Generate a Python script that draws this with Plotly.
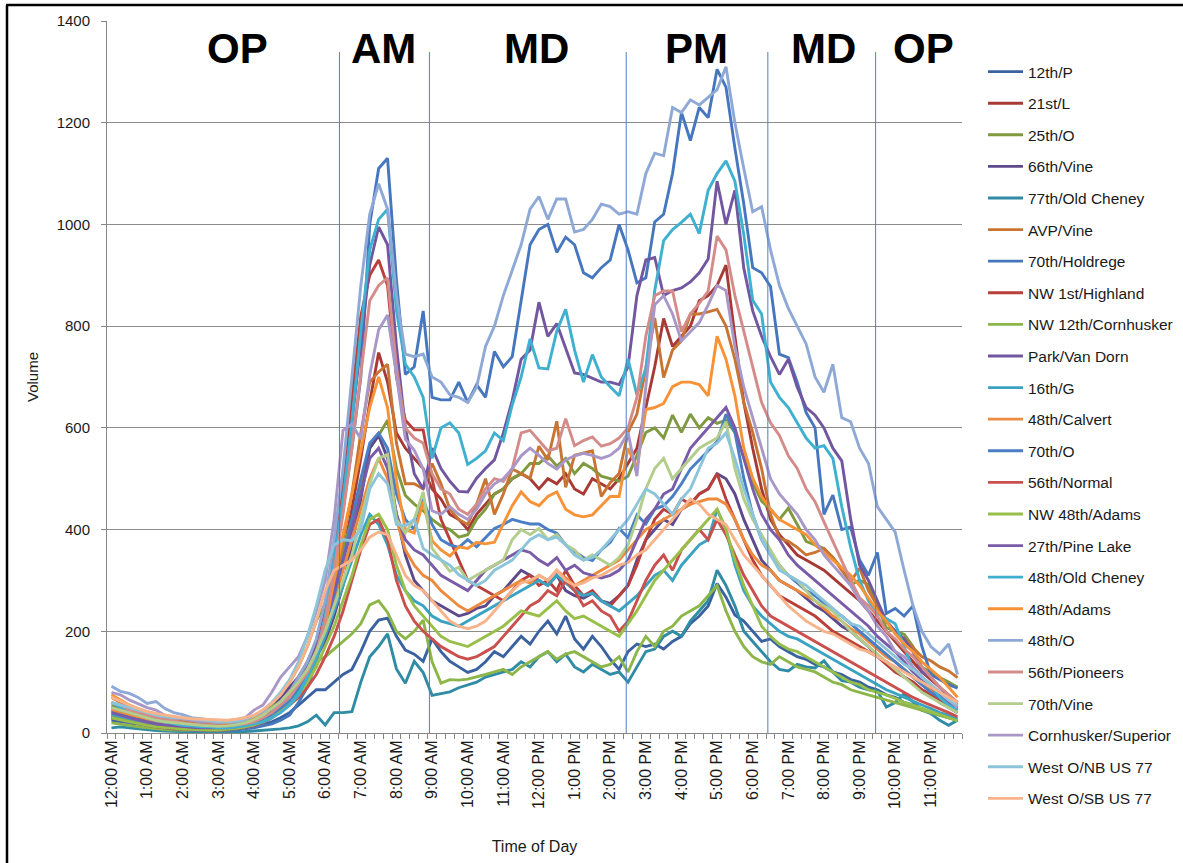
import plotly.graph_objects as go

# ---- time axis (15-minute bins) ----
HOURS = ["12", "1", "2", "3", "4", "5", "6", "7", "8", "9", "10", "11"]
TIME_LABELS = []
for half in ["AM", "PM"]:
    for h in HOURS:
        for m in ["00", "15", "30", "45"]:
            TIME_LABELS.append(f"{h}:{m} {half}")
X_IDX = list(range(len(TIME_LABELS)))

SERIES_NAMES = ["12th/P", "21st/L", "25th/O", "66th/Vine", "77th/Old Cheney", "AVP/Vine",
                "70th/Holdrege", "NW 1st/Highland", "NW 12th/Cornhusker", "Park/Van Dorn",
                "16th/G", "48th/Calvert", "70th/O", "56th/Normal", "NW 48th/Adams",
                "27th/Pine Lake", "48th/Old Cheney", "48th/Adams", "48th/O", "56th/Pioneers",
                "70th/Vine", "Cornhusker/Superior", "West O/NB US 77", "West O/SB US 77"]

SERIES_COLORS = ["#3A62A0", "#A83A36", "#7F9A3F", "#5E4A8B", "#2F8CA4", "#C87533",
                 "#4677BE", "#BA3F3B", "#8DB64A", "#7257A0", "#3BA3C2", "#EE8A3D",
                 "#4A7EC5", "#C9504D", "#98BF4A", "#7A5BA8", "#3FB0CF", "#F79237",
                 "#8FA9D6", "#D48C8A", "#B3CD8C", "#A997C7", "#8CC5DA", "#F8B38A"]

V_12TH_P = [25, 22, 20, 18, 15, 13, 12, 10, 9, 8, 8, 7,
            7, 7, 8, 10, 12, 16, 22, 30, 40, 55, 70, 85,
            85, 100, 115, 125, 160, 200, 222, 226, 190, 163, 155, 141,
            185, 160, 141, 130, 119, 125, 140, 160, 150, 170, 190, 175,
            200, 220, 195, 230, 185, 165, 190, 170, 145, 125, 160, 175,
            170, 175, 165, 180, 190, 215, 230, 250, 294, 267, 232, 220,
            200, 180, 185, 170, 160, 150, 145, 135, 130, 120, 115, 105,
            100, 90, 85, 75, 70, 60, 55, 45, 40, 35, 30, 25]
V_21ST_L = [45, 40, 35, 30, 26, 22, 20, 18, 16, 15, 14, 13,
            12, 12, 14, 16, 20, 26, 36, 50, 65, 85, 110, 150,
            200, 270, 350, 440, 540, 650, 748, 690, 590, 560, 540, 520,
            480, 460, 430, 420, 400, 430, 450, 470, 480, 500, 510, 500,
            480, 500, 490, 510, 480, 470, 500, 490, 480, 500, 530, 560,
            640, 720, 815, 760, 780, 800, 850, 860, 880, 920, 780, 650,
            560, 480, 420, 390, 370, 350, 340, 330, 320, 305, 290, 275,
            260, 240, 220, 200, 180, 160, 140, 120, 105, 90, 75, 60]
V_25TH_O = [55, 50, 45, 40, 34, 30, 26, 22, 20, 18, 16, 15,
            14, 15, 18, 22, 30, 40, 55, 75, 100, 130, 170, 220,
            255, 300, 360, 420, 480, 560, 585, 615, 520, 467, 450, 437,
            420, 407, 400, 385, 390, 420, 440, 470, 480, 500, 510, 530,
            530, 545, 525, 540, 510, 530, 520, 505, 500, 495, 505, 546,
            591, 600, 580, 625, 591, 627, 600, 620, 609, 615, 591, 540,
            492, 456, 440, 420, 442, 410, 377, 370, 363, 345, 324, 292,
            300, 292, 250, 207, 200, 194, 170, 129, 120, 109, 100, 90]
V_66TH_VINE = [30, 25, 20, 18, 15, 12, 10, 8, 7, 6, 6, 5,
               5, 6, 8, 12, 18, 28, 45, 70, 90, 110, 130, 150,
               180, 230, 290, 370, 460, 560, 585, 540, 430, 350, 300, 280,
               260, 250, 240, 230, 235, 245, 250, 270, 280, 300, 320, 310,
               300, 290, 310, 280, 270, 265, 275, 260, 255, 270, 290, 340,
               380, 400, 420, 410, 440, 450, 470, 480, 510, 500, 470, 420,
               380, 340, 320, 300, 290, 280, 265, 250, 240, 225, 210, 200,
               185, 170, 150, 140, 125, 110, 100, 85, 75, 60, 50, 40]
V_77TH_OLD_CHENEY = [10, 12, 10, 8, 6, 5, 4, 3, 3, 2, 2, 2,
                     2, 2, 3, 3, 4, 5, 6, 8, 10, 14, 22, 35,
                     16, 40, 40, 42, 100, 150, 170, 195, 126, 98, 141, 119,
                     74, 78, 81, 89, 95, 100, 110, 115, 120, 125, 140, 130,
                     150, 160, 140, 155, 130, 120, 135, 125, 115, 120, 100, 130,
                     160, 165, 190, 200, 190, 220, 240, 260, 320, 290, 250, 200,
                     180, 160, 140, 125, 122, 135, 130, 128, 142, 120, 103, 100,
                     90, 85, 83, 51, 60, 77, 60, 45, 38, 25, 15, 25]
V_AVP_VINE = [70, 60, 55, 45, 40, 35, 30, 28, 25, 22, 20, 18,
              15, 15, 16, 18, 22, 28, 40, 55, 70, 90, 120, 150,
              200, 280, 380, 470, 590, 690, 710, 725, 570, 490, 490, 480,
              530, 490, 440, 420, 410, 450, 500, 430, 470, 519, 510, 501,
              564, 537, 613, 483, 546, 550, 555, 465, 492, 510, 591, 627,
              717, 816, 699, 753, 771, 824, 824, 828, 833, 800, 735, 650,
              591, 520, 430, 383, 377, 365, 350, 355, 363, 345, 320, 298,
              324, 280, 250, 220, 200, 185, 168, 150, 142, 130, 122, 109]
V_70TH_HOLDREGE = [30, 25, 20, 18, 14, 12, 10, 8, 8, 6, 6, 5,
                   5, 6, 6, 8, 10, 14, 18, 25, 35, 60, 90, 140,
                   210, 320, 440, 560, 700, 1000, 1110, 1130, 890, 705, 720, 830,
                   660, 655, 655, 690, 650, 685, 660, 750, 720, 740, 850, 960,
                   990, 1000, 945, 975, 960, 905, 895, 915, 930, 1000, 950, 885,
                   895, 1005, 1020, 1100, 1220, 1165, 1230, 1210, 1305, 1270, 1150, 1040,
                   915, 905, 878, 745, 738, 690, 630, 600, 430, 468, 400, 405,
                   340, 310, 355, 235, 245, 230, 250, 170, 115, 105, 95, 88]
V_NW_1ST_HIGHLAND = [50, 45, 38, 32, 28, 24, 20, 18, 16, 15, 14, 12,
                     12, 12, 14, 18, 24, 32, 45, 60, 80, 110, 140, 180,
                     250, 360, 500, 660, 820, 900, 930, 880, 700, 615, 596, 596,
                     500, 420, 380, 340, 300, 290, 280, 270, 260, 280, 300, 310,
                     290, 300, 280, 320, 290, 270, 280, 260, 250, 270, 290, 330,
                     380, 420, 440, 430, 460, 450, 470, 480, 510, 460, 420, 380,
                     340, 310, 290, 270, 260, 250, 240, 230, 215, 200, 190, 180,
                     170, 160, 150, 135, 120, 110, 100, 85, 75, 65, 55, 45]
V_NW_12TH_CORNHUSKER = [20, 18, 15, 12, 10, 8, 7, 6, 6, 5, 5, 5,
                        5, 6, 8, 10, 14, 20, 30, 45, 60, 80, 110, 140,
                        150, 165, 180, 195, 215, 252, 260, 237, 200, 185, 200, 222,
                        140, 98, 105, 104, 106, 110, 115, 120, 125, 115, 130, 140,
                        150, 160, 145, 155, 160, 150, 140, 130, 135, 150, 120, 160,
                        190, 170, 200, 210, 230, 240, 250, 270, 290, 240, 200, 170,
                        150, 140, 135, 150, 140, 130, 125, 120, 110, 100, 95, 85,
                        80, 75, 70, 65, 60, 55, 50, 45, 40, 35, 30, 25]
V_PARK_VAN_DORN = [35, 30, 25, 20, 15, 12, 10, 8, 8, 6, 6, 6,
                   5, 6, 8, 10, 14, 20, 30, 45, 60, 80, 110, 150,
                   220, 330, 460, 610, 770, 920, 995, 960, 760, 600, 510, 480,
                   560, 520, 495, 475, 474, 501, 520, 537, 590, 654, 735, 753,
                   847, 780, 805, 755, 708, 705, 698, 690, 690, 685, 720, 860,
                   930, 935, 860, 870, 875, 887, 905, 932, 1085, 1000, 1067, 914,
                   830, 780, 740, 705, 735, 680, 640, 625, 600, 560, 535, 420,
                   330, 300, 260, 220, 200, 185, 160, 120, 110, 90, 70, 55]
V_16TH_G = [35, 30, 26, 22, 18, 15, 13, 11, 10, 9, 8, 8,
            7, 8, 10, 13, 18, 24, 32, 45, 60, 80, 110, 145,
            190, 240, 290, 340, 390, 430, 410, 370, 310, 280, 260, 250,
            230, 220, 215, 210, 220, 230, 240, 250, 260, 270, 280, 290,
            300, 290, 310, 295, 280, 270, 275, 260, 250, 240, 255, 270,
            290, 310, 320, 300, 330, 350, 370, 380, 440, 400, 330, 280,
            250, 230, 215, 200, 190, 185, 175, 165, 155, 145, 135, 125,
            115, 105, 95, 85, 78, 70, 62, 55, 48, 40, 35, 28]
V_48TH_CALVERT = [45, 40, 35, 30, 26, 22, 20, 18, 16, 15, 14, 13,
                  12, 13, 15, 18, 24, 32, 44, 60, 80, 105, 135, 170,
                  210, 260, 320, 380, 440, 500, 540, 500, 420, 360, 330, 310,
                  300, 280, 265, 250, 240, 250, 260, 270, 280, 290, 300, 295,
                  310, 300, 320, 305, 290, 300, 310, 320, 330, 340, 360, 380,
                  400, 410, 420, 430, 440, 450, 455, 460, 460, 450, 420, 380,
                  350, 330, 320, 300, 290, 280, 270, 260, 245, 230, 220, 205,
                  195, 180, 165, 150, 140, 125, 110, 95, 85, 75, 65, 55]
V_70TH_O = [40, 35, 30, 26, 22, 18, 15, 13, 12, 10, 10, 9,
            8, 9, 10, 13, 18, 25, 35, 50, 65, 90, 120, 160,
            210, 270, 340, 420, 500, 570, 590, 560, 470, 420, 400, 460,
            410, 380, 370, 365, 380, 366, 385, 402, 410, 420, 415, 411,
            411, 400, 393, 370, 357, 345, 339, 360, 375, 402, 384, 429,
            411, 440, 447, 465, 490, 519, 537, 555, 573, 627, 591, 501,
            429, 380, 350, 330, 310, 295, 280, 270, 255, 240, 230, 215,
            200, 185, 170, 155, 140, 125, 110, 95, 80, 70, 60, 50]
V_56TH_NORMAL = [30, 26, 22, 18, 15, 12, 10, 9, 8, 7, 7, 6,
                 6, 7, 9, 12, 16, 22, 30, 42, 55, 70, 90, 115,
                 150, 190, 240, 300, 360, 410, 420, 380, 300, 250, 220, 200,
                 185, 170, 160, 150, 145, 150, 160, 170, 190, 210, 230, 250,
                 260, 280, 270, 300, 280, 250, 260, 240, 230, 200, 220, 260,
                 300, 330, 350, 320, 360, 380, 400, 380, 420, 390, 350, 310,
                 280, 250, 230, 220, 210, 200, 190, 180, 170, 160, 150, 140,
                 130, 120, 110, 100, 90, 80, 70, 62, 55, 48, 40, 32]
V_NW_48TH_ADAMS = [30, 26, 22, 18, 15, 12, 10, 9, 8, 7, 6, 6,
                   6, 7, 9, 12, 16, 22, 30, 42, 55, 75, 100, 130,
                   170, 210, 260, 310, 370, 420, 430, 400, 330, 280, 250, 230,
                   210, 190, 180, 175, 170, 180, 190, 200, 210, 225, 240, 235,
                   230, 245, 260, 240, 225, 230, 220, 210, 200, 190, 215, 240,
                   270, 300, 320, 340, 360, 380, 400, 420, 440, 400, 340, 290,
                   250, 210, 190, 175, 165, 160, 150, 140, 130, 120, 110, 100,
                   95, 85, 80, 75, 68, 60, 55, 48, 42, 36, 30, 24]
V_27TH_PINE_LAKE = [40, 35, 30, 26, 22, 18, 16, 14, 12, 11, 10, 10,
                    9, 10, 12, 16, 22, 30, 45, 60, 80, 100, 130, 170,
                    220, 280, 340, 400, 470, 540, 560, 520, 430, 380, 360, 350,
                    330, 310, 300, 290, 280, 300, 320, 330, 340, 350, 360, 355,
                    340, 330, 345, 320, 330, 315, 310, 305, 310, 320, 340, 380,
                    420, 440, 470, 480, 520, 560, 580, 600, 620, 640, 600, 540,
                    480, 430, 400, 380, 350, 330, 315, 300, 285, 270, 255, 240,
                    225, 210, 190, 175, 160, 140, 120, 105, 90, 75, 60, 50]
V_48TH_OLD_CHENEY = [60, 50, 45, 38, 30, 25, 22, 18, 15, 14, 12, 12,
                     10, 10, 12, 14, 18, 22, 30, 40, 55, 75, 110, 150,
                     230, 340, 460, 610, 790, 950, 1010, 1030, 830, 725, 700, 660,
                     540, 600, 610, 590, 528, 540, 555, 590, 575, 645, 700, 775,
                     718, 716, 790, 833, 753, 690, 744, 700, 681, 663, 735, 665,
                     717, 870, 968, 990, 1004, 1020, 982, 1067, 1100, 1125, 1085, 980,
                     851, 824, 690, 660, 640, 611, 580, 560, 565, 540, 445, 365,
                     300, 260, 235, 225, 215, 170, 125, 110, 95, 70, 55, 45]
V_48TH_ADAMS = [75, 65, 55, 48, 42, 38, 34, 30, 28, 26, 24, 22,
                20, 20, 22, 25, 30, 38, 48, 60, 75, 95, 120, 160,
                210, 300, 390, 470, 556, 640, 700, 640, 496, 400, 393, 455,
                378, 360, 348, 366, 363, 375, 372, 375, 411, 447, 474, 455,
                447, 465, 474, 440, 429, 425, 429, 447, 465, 465, 560, 520,
                636, 640, 648, 681, 690, 690, 685, 663, 780, 735, 663, 560,
                501, 465, 440, 420, 410, 400, 390, 370, 355, 340, 325, 310,
                290, 265, 240, 220, 195, 175, 160, 140, 125, 110, 90, 70]
V_48TH_O = [92, 82, 78, 70, 58, 62, 48, 40, 36, 30, 28, 26,
            24, 22, 20, 26, 34, 42, 48, 60, 80, 110, 140, 185,
            260, 380, 520, 700, 880, 1020, 1080, 1030, 860, 745, 740, 745,
            700, 690, 665, 660, 650, 680, 760, 800, 860, 910, 960, 1030,
            1055, 1010, 1050, 1050, 985, 990, 1010, 1040, 1035, 1020, 1025, 1020,
            1100, 1140, 1135, 1230, 1220, 1245, 1235, 1250, 1265, 1310, 1200, 1110,
            1025, 1035, 950, 880, 835, 800, 765, 700, 670, 725, 620, 612,
            560, 530, 445, 420, 395, 320, 250, 200, 170, 155, 175, 115]
V_56TH_PIONEERS = [60, 55, 45, 40, 35, 30, 26, 24, 20, 18, 16, 15,
                   14, 14, 16, 18, 22, 30, 40, 55, 70, 95, 120, 160,
                   220, 320, 430, 560, 700, 850, 880, 895, 720, 600, 580, 570,
                   510, 480, 470, 440, 430, 450, 480, 500, 495, 520, 590, 595,
                   575, 555, 560, 618, 565, 575, 582, 564, 569, 580, 600, 660,
                   780, 860, 869, 869, 789, 824, 845, 869, 977, 950, 860, 790,
                   717, 650, 610, 585, 545, 520, 480, 455, 415, 377, 340, 300,
                   266, 250, 230, 200, 185, 165, 150, 130, 110, 90, 75, 60]
V_70TH_VINE = [50, 45, 40, 35, 30, 25, 22, 20, 18, 16, 15, 14,
               13, 14, 16, 20, 26, 35, 48, 62, 80, 100, 125, 160,
               200, 250, 300, 350, 420, 490, 540, 548, 420, 393, 420, 474,
               363, 340, 318, 326, 300, 310, 320, 330, 340, 380, 400, 390,
               402, 380, 390, 370, 360, 340, 350, 340, 330, 345, 370, 420,
               480, 520, 540, 500, 520, 540, 560, 570, 580, 612, 520, 460,
               420, 390, 360, 330, 310, 300, 280, 260, 250, 240, 220, 200,
               185, 170, 155, 140, 125, 110, 95, 80, 70, 60, 50, 40]
V_CORNHUSKER_SUPERIOR = [80, 75, 65, 58, 50, 45, 35, 30, 28, 25, 22, 22,
                         20, 22, 26, 30, 45, 55, 80, 110, 130, 150, 190, 240,
                         300, 420, 595, 607, 578, 704, 793, 822, 704, 578, 556, 519,
                         437, 430, 445, 430, 420, 440, 470, 490, 500, 520, 545, 560,
                         546, 530, 519, 537, 545, 550, 546, 540, 546, 560, 591, 505,
                         681, 842, 860, 824, 771, 790, 807, 842, 880, 870, 760, 680,
                         620, 560, 500, 470, 450, 430, 400, 380, 350, 330, 310, 290,
                         260, 240, 210, 190, 160, 150, 130, 110, 95, 80, 65, 50]
V_WEST_O_NB = [60, 55, 50, 45, 40, 35, 32, 30, 30, 28, 26, 24,
               22, 22, 24, 28, 34, 45, 60, 80, 105, 140, 190, 250,
               320, 370, 380, 378, 400, 480, 510, 490, 410, 407, 420, 363,
               350, 340, 330, 311, 300, 290, 300, 320, 330, 340, 360, 380,
               390, 380, 385, 370, 350, 340, 345, 360, 380, 400, 420, 450,
               480, 470, 450, 430, 460, 480, 520, 560, 570, 590, 540, 480,
               430, 380, 350, 320, 310, 300, 290, 275, 260, 245, 230, 215,
               210, 195, 180, 165, 150, 135, 125, 110, 95, 80, 65, 55]
V_WEST_O_SB = [70, 62, 55, 48, 42, 38, 35, 32, 30, 28, 27, 26,
               25, 25, 27, 30, 35, 45, 58, 75, 100, 130, 170, 220,
               280, 320, 330, 340, 360, 385, 395, 390, 350, 310, 290, 280,
               260, 240, 220, 210, 205, 210, 220, 240, 260, 280, 295, 300,
               310, 300, 320, 300, 290, 295, 305, 310, 320, 330, 335, 350,
               360, 380, 400, 420, 440, 460, 450, 430, 420, 410, 380, 350,
               330, 310, 290, 270, 250, 235, 220, 210, 200, 195, 185, 175,
               165, 160, 150, 140, 130, 120, 110, 100, 90, 80, 70, 60]

SERIES_VALUES = [V_12TH_P, V_21ST_L, V_25TH_O, V_66TH_VINE, V_77TH_OLD_CHENEY, V_AVP_VINE,
                 V_70TH_HOLDREGE, V_NW_1ST_HIGHLAND, V_NW_12TH_CORNHUSKER, V_PARK_VAN_DORN,
                 V_16TH_G, V_48TH_CALVERT, V_70TH_O, V_56TH_NORMAL, V_NW_48TH_ADAMS,
                 V_27TH_PINE_LAKE, V_48TH_OLD_CHENEY, V_48TH_ADAMS, V_48TH_O, V_56TH_PIONEERS,
                 V_70TH_VINE, V_CORNHUSKER_SUPERIOR, V_WEST_O_NB, V_WEST_O_SB]

# period dividers (in 15-min bin units) and labels
PERIOD_BOUNDS = [25.6, 35.7, 57.8, 73.7, 85.8]
PERIOD_LABELS = ["OP", "AM", "MD", "PM", "MD", "OP"]
PERIOD_LABEL_X = [14.2, 30.6, 47.7, 65.7, 79.9, 91.2]

for v in SERIES_VALUES:
    assert len(v) == 96, len(v)

# ---- figure geometry ----
W, H = 1183, 863
ML, MR, MT, MB = 107, 221, 21, 130
PW, PH = W - ML - MR, H - MT - MB


def px_x(px):
    return (px - ML) / PW


def px_y(py):
    return (H - MB - py) / PH


fig = go.Figure()
for i, (name, color, vals) in enumerate(zip(SERIES_NAMES, SERIES_COLORS, SERIES_VALUES)):
    fig.add_trace(go.Scatter(x=X_IDX, y=vals, mode="lines", name=name, legendgroup=name,
                             legend="legend" if i < 12 else "legend2",
                             line=dict(color=color, width=2.9)))

shapes = []
for b in PERIOD_BOUNDS:
    shapes.append(dict(type="line", xref="x", yref="y", x0=b, x1=b, y0=0, y1=1339,
                       line=dict(color="#4F81BD", width=1)))
# outer black frame (top and left edges visible)
shapes.append(dict(type="line", xref="paper", yref="paper", x0=px_x(6), x1=px_x(1200),
                   y0=px_y(5), y1=px_y(5), line=dict(color="black", width=2.5)))
shapes.append(dict(type="line", xref="paper", yref="paper", x0=px_x(7), x1=px_x(7),
                   y0=px_y(5), y1=px_y(880), line=dict(color="black", width=2.5)))

annotations = []
for lab, xc in zip(PERIOD_LABELS, PERIOD_LABEL_X):
    annotations.append(dict(x=xc, y=1345, xref="x", yref="y", text=f"<b>{lab}</b>",
                            showarrow=False, xanchor="center", yanchor="middle",
                            font=dict(family="Liberation Sans, Arial", size=42, color="black")))

legend_common = dict(xanchor="left", yanchor="top", font=dict(size=15.5, color="#1a1a1a"),
                     traceorder="grouped", tracegroupgap=8.45, itemwidth=35,
                     bgcolor="rgba(0,0,0,0)")

fig.update_layout(
    width=W, height=H,
    margin=dict(l=ML, r=MR, t=MT, b=MB, pad=0, autoexpand=False),
    paper_bgcolor="white", plot_bgcolor="white",
    font=dict(family="Liberation Sans, Arial", color="#1a1a1a"),
    shapes=shapes, annotations=annotations,
    showlegend=True,
    legend=dict(x=px_x(983), y=px_y(55), **legend_common),
    legend2=dict(x=px_x(983), y=px_y(55 + 12 * 31.6), **legend_common),
    xaxis=dict(range=[-0.5, 95.5], tickmode="array", tickvals=X_IDX[::4],
               ticktext=TIME_LABELS[::4], tickangle=-90, ticks="",
               tickfont=dict(size=16), showline=True, linecolor="#868686", linewidth=1,
               showgrid=False, zeroline=False, automargin=False,
               minor=dict(tick0=-0.5, dtick=1, ticks="outside", ticklen=5,
                          tickcolor="#868686", showgrid=False),
               title=dict(text="Time of Day", font=dict(size=16), standoff=32)),
    yaxis=dict(range=[0, 1400], dtick=200, showgrid=True, gridcolor="#8C8C8C", gridwidth=1,
               showline=True, linecolor="#868686", linewidth=1, zeroline=False,
               ticks="outside", ticklen=5, tickcolor="#868686", automargin=False,
               tickfont=dict(size=15), ticklabelstandoff=8,
               title=dict(text="Volume", font=dict(size=15), standoff=14)),
)

fig.write_html("out.html", config={"displayModeBar": False},
               post_script="document.body.style.margin='0';")
